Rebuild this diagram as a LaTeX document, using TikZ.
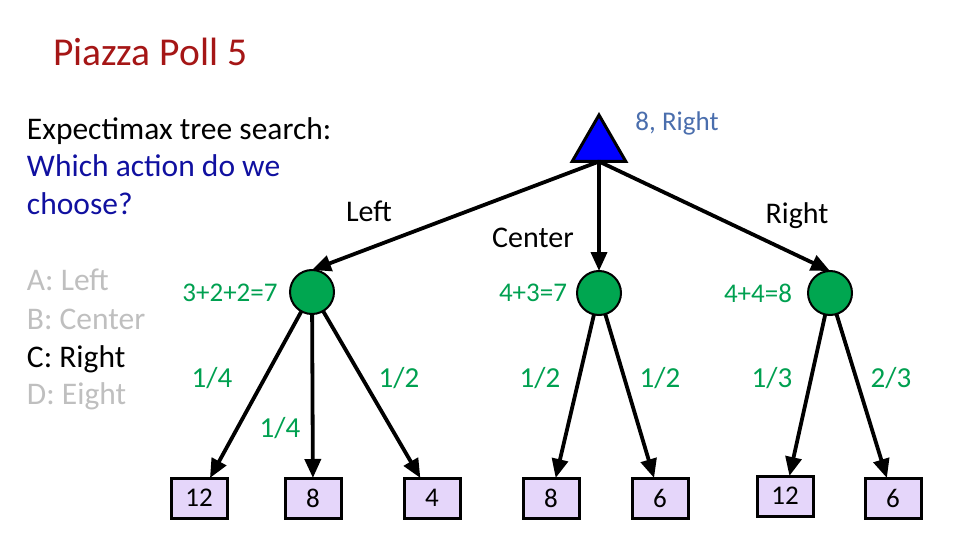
\documentclass[tikz,border=0pt]{standalone}
\usepackage{fontspec}
\setmainfont{Carlito}
\usetikzlibrary{arrows.meta,shapes.geometric}
\definecolor{titlered}{RGB}{165,22,22}
\definecolor{qblue}{RGB}{16,16,160}
\definecolor{optgray}{RGB}{191,191,191}
\definecolor{probgreen}{RGB}{0,160,80}
\definecolor{nodegreen}{RGB}{0,166,80}
\definecolor{leaffill}{RGB}{229,214,250}
\definecolor{valblue}{RGB}{74,110,173}
\begin{document}
\begin{tikzpicture}[x=1pt,y=-1pt,
  every node/.style={inner sep=0pt, outer sep=0pt},
  arr/.style={line width=3.8pt, -{Triangle[length=19pt,width=16pt]}},
  chance/.style={circle, draw=black, line width=2pt, fill=nodegreen, minimum size=44pt},
  leaf/.style={rectangle, draw=black, line width=3pt, fill=leaffill, minimum width=56pt, minimum height=40pt, font=\fontsize{27}{32}\selectfont},
  maxnode/.style={regular polygon, regular polygon sides=3, draw=black, line width=3pt, fill=blue, minimum size=62pt},
  bodytxt/.style={anchor=base west, font=\fontsize{31.5}{37}\selectfont},
  lbl/.style={font=\fontsize{30}{36}\selectfont},
  prob/.style={font=\fontsize{29}{34}\selectfont, text=probgreen},
  sumtxt/.style={font=\fontsize{27}{32}\selectfont, text=probgreen}
]
\useasboundingbox (0,0) rectangle (960,540);
% title and question
\node[anchor=base west, font=\fontsize{39.5}{46}\selectfont, text=titlered] (title) at (53,66) {Piazza Poll 5};
\node[bodytxt] (q1) at (27,140) {Expectimax tree search:};
\node[bodytxt, text=qblue] (q2) at (27,177) {Which action do we};
\node[bodytxt, text=qblue] (q3) at (27,214) {choose?};
\node[bodytxt, text=optgray] (oa) at (27,290) {A: Left};
\node[bodytxt, text=optgray] (ob) at (27,329) {B: Center};
\node[bodytxt, text=black] (oc) at (27,367) {C: Right};
\node[bodytxt, text=optgray] (od) at (27,404) {D: Eight};
% tree nodes
\node[maxnode] (root) at (599,146) {};
\node[font=\fontsize{27}{32}\selectfont, text=valblue] (rootval) at (677,123) {8, Right};
\node[chance] (c1) at (312,292) {};
\node[chance] (c2) at (599,293) {};
\node[chance] (c3) at (830,293) {};
\node[sumtxt] (s1) at (230,293) {3+2+2=7};
\node[sumtxt] (s2) at (533,293) {4+3=7};
\node[sumtxt] (s3) at (758,293) {4+4=8};
\node[leaf] (l1) at (199,498) {12};
\node[leaf] (l2) at (313,498) {8};
\node[leaf] (l3) at (432,498) {4};
\node[leaf] (l4) at (551,498) {8};
\node[leaf] (l5) at (660,498) {6};
\node[leaf] (l6) at (785,496) {12};
\node[leaf] (l7) at (893,498) {6};
% action labels
\node[lbl] (aleft) at (369,211) {Left};
\node[lbl] (acenter) at (533,238) {Center};
\node[lbl] (aright) at (797,216) {Right};
% probability labels
\node[prob] (p1) at (212,378) {1/4};
\node[prob] (p2) at (399,378) {1/2};
\node[prob] (p3) at (280,428) {1/4};
\node[prob] (p4) at (540,378) {1/2};
\node[prob] (p5) at (660,378) {1/2};
\node[prob] (p6) at (772,378) {1/3};
\node[prob] (p7) at (891,378) {2/3};
% connectors
\draw[arr] (root.side 2) -- (c1.north);
\draw[arr] (root.side 2) -- (c2.north);
\draw[arr] (root.side 2) -- (c3.north);
\draw[arr] (c1) -- (l1);
\draw[arr] (c1) -- (l2);
\draw[arr] (c1) -- (l3);
\draw[arr] (c2) -- (l4);
\draw[arr] (c2) -- (l5);
\draw[arr] (c3) -- (l6);
\draw[arr] (c3) -- (l7);
\end{tikzpicture}
\end{document}
